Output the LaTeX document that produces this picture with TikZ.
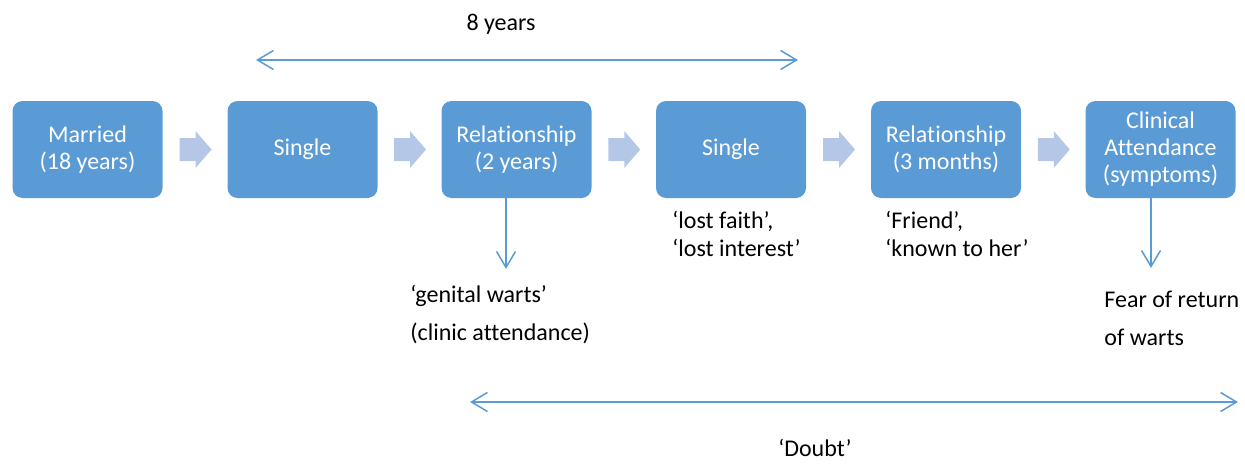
\documentclass[tikz,border=0pt]{standalone}
\usepackage{fontspec}
\setmainfont{Carlito}[Ligatures=NoCommon]
\usetikzlibrary{arrows.meta,calc}
\definecolor{boxc}{HTML}{5B9BD5}
\definecolor{chevc}{HTML}{B4C7E7}
\definecolor{linec}{HTML}{5B9BD5}
\tikzset{
  stagebox/.style={fill=boxc, rounded corners=5pt, minimum width=75pt, minimum height=48.5pt,
    text=white, align=center, inner sep=0pt, font=\fontsize{12}{13.5}\selectfont},
  lbl/.style={anchor=base west, inner sep=0pt, font=\fontsize{12}{14}\selectfont, text=black},
  clbl/.style={anchor=base, inner sep=0pt, font=\fontsize{12}{14}\selectfont, text=black},
  conn/.style={draw=linec, line width=0.75pt},
  tipend/.style={-{Straight Barb[length=8pt,width=9.5pt,line width=0.75pt]}},
  tipboth/.style={{Straight Barb[length=8pt,width=9.5pt,line width=0.75pt]}-{Straight Barb[length=8pt,width=9.5pt,line width=0.75pt]}},
  chevron/.style={fill=chevc}
}
\begin{document}
\begin{tikzpicture}[x=0.5pt,y=-0.5pt]
\useasboundingbox (0,0) rectangle (1245,465);
% stage boxes
\node[stagebox] (b1) at (87.5,149.5) {Married\\(18 years)};
\node[stagebox] (b2) at (302.5,149.5) {Single};
\node[stagebox] (b3) at (516.5,149.5) {Relationship\\(2 years)};
\node[stagebox] (b4) at (731,149.5) {Single};
\node[stagebox] (b5) at (946,149.5) {Relationship\\(3 months)};
\node[stagebox] (b6) at (1160.5,149.5) {Clinical\\Attendance\\(symptoms)};
% chevrons
\foreach \a/\b/\n in {b1/b2/m1,b2/b3/m2,b3/b4/m3,b4/b5/m4,b5/b6/m5}{
  \path (\a.east) -- (\b.west) coordinate[midway] (\n);
  \fill[chevron, shift={(\n)}] (-15.5,-11.5) -- (0.5,-11.5) -- (0.5,-18.5) -- (16.5,0)
     -- (0.5,18.5) -- (0.5,11.5) -- (-15.5,11.5) -- cycle;
}
% top span arrow
\coordinate (t1) at (256,60);
\coordinate (t2) at (798,60);
\draw[conn,tipboth] (t1) -- (t2);
\node[clbl] (ty) at (501,31) {8 years};
% bottom span arrow
\coordinate (d1) at (470,402);
\coordinate (d2) at (1238,402);
\draw[conn,tipboth] (d1) -- (d2);
\node[clbl] (doubt) at (815,456) {‘Doubt’};
% down arrows
\coordinate (a3) at ($(b3.south)+(-10.5,0)$);
\coordinate (e3) at ($(a3)+(0,70.5)$);
\draw[conn,tipend] (a3) -- (e3);
\coordinate (a6) at ($(b6.south)+(-9.5,0)$);
\coordinate (e6) at ($(a6)+(0,69.5)$);
\draw[conn,tipend] (a6) -- (e6);
% labels
\node[lbl] (g1) at (410,302.5) {‘genital warts’};
\node[lbl] (g2) at (410,340) {(clinic attendance)};
\node[lbl] (l1) at (672,228.3) {‘lost faith’,};
\node[lbl] (l2) at (672,256) {‘lost interest’};
\node[lbl] (f1) at (885,228.3) {‘Friend’,};
\node[lbl] (f2) at (885,256) {‘known to her’};
\node[lbl] (w1) at (1104,307) {Fear of return};
\node[lbl] (w2) at (1104,345.5) {of warts};
\end{tikzpicture}
\end{document}
